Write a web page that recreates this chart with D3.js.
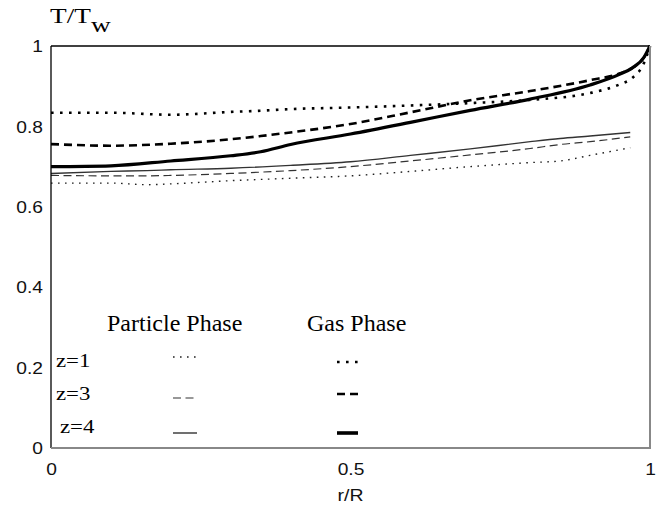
<!DOCTYPE html>
<html>
<head>
<meta charset="utf-8">
<script src="https://cdn.jsdelivr.net/npm/d3@7/dist/d3.min.js"></script>
<style>
  html, body { margin: 0; padding: 0; background: #fff; }
  svg { display: block; }
</style>
</head>
<body>
<div id="chart"></div>
<script>
// Radial temperature profiles T/Tw against r/R for the gas and particle phases.
const rGas  = [0, 0.1, 0.2, 0.3, 0.35, 0.4, 0.5, 0.6, 0.7, 0.8, 0.9, 0.95, 0.97, 0.99, 1.0];
const rPart = [0, 0.1, 0.16, 0.2, 0.3, 0.4, 0.5, 0.6, 0.7, 0.8, 0.85, 0.9, 0.967];

const gasZ1 = [0.834, 0.834, 0.829, 0.836, 0.839, 0.843, 0.847, 0.852, 0.858, 0.866, 0.883, 0.905, 0.92, 0.958, 1.0];
const gasZ3 = [0.756, 0.752, 0.757, 0.768, 0.776, 0.785, 0.806, 0.835, 0.865, 0.888, 0.915, 0.932, 0.945, 0.972, 1.0];
const gasZ4 = [0.700, 0.702, 0.714, 0.727, 0.737, 0.755, 0.781, 0.810, 0.840, 0.868, 0.903, 0.930, 0.945, 0.972, 1.0];

const partZ1 = [0.659, 0.659, 0.655, 0.657, 0.665, 0.671, 0.677, 0.688, 0.700, 0.710, 0.714, 0.728, 0.747];
const partZ3 = [0.678, 0.677, 0.677, 0.678, 0.683, 0.690, 0.700, 0.714, 0.729, 0.745, 0.755, 0.762, 0.774];
const partZ4 = [0.683, 0.688, 0.690, 0.692, 0.696, 0.703, 0.712, 0.728, 0.744, 0.762, 0.770, 0.776, 0.785];

const xTickValues = [0, 0.5, 1];
const xTickLabels = ["0", "0.5", "1"];
const yTickValues = [0, 0.2, 0.4, 0.6, 0.8, 1];
const yTickLabels = ["0", "0.2", "0.4", "0.6", "0.8", "1"];

const legendRows = ["z=1", "z=3", "z=4"];
const legendHeads = ["Particle Phase", "Gas Phase"];

const W = 660, H = 515;
const svg = d3.select("#chart").append("svg").attr("width", W).attr("height", H);
svg.append("rect").attr("width", W).attr("height", H).attr("fill", "#fff");

const x = d3.scaleLinear().domain([0, 1]).range([51, 650]);
const y = d3.scaleLinear().domain([0, 1]).range([448, 46]);

// Line styles per phase and axial position
const gasStyle = {
  "z=1": { width: 2.6, dash: "2.6,6.4", color: "#000" },
  "z=3": { width: 2.6, dash: "8,5", color: "#000" },
  "z=4": { width: 3.2, dash: null, color: "#000" }
};
const partStyle = {
  "z=1": { width: 1.4, dash: "1.6,5.4", color: "#222" },
  "z=3": { width: 1.2, dash: "8,4.5", color: "#333" },
  "z=4": { width: 1.4, dash: null, color: "#333" }
};

const series = [
  { phase: "part", z: "z=1", r: rPart, v: partZ1 },
  { phase: "part", z: "z=3", r: rPart, v: partZ3 },
  { phase: "part", z: "z=4", r: rPart, v: partZ4 },
  { phase: "gas", z: "z=1", r: rGas, v: gasZ1 },
  { phase: "gas", z: "z=3", r: rGas, v: gasZ3 },
  { phase: "gas", z: "z=4", r: rGas, v: gasZ4 }
];

const line = d3.line()
  .x(d => x(d[0]))
  .y(d => y(d[1]))
  .curve(d3.curveMonotoneX);

const styleOf = s => (s.phase === "gas" ? gasStyle : partStyle)[s.z];

svg.append("g").selectAll("path")
  .data(series)
  .join("path")
  .attr("d", s => line(s.r.map((r, i) => [r, s.v[i]])))
  .attr("fill", "none")
  .attr("stroke", s => styleOf(s).color)
  .attr("stroke-width", s => styleOf(s).width)
  .attr("stroke-dasharray", s => styleOf(s).dash)
  .attr("stroke-linecap", "butt");

// Plot frame: black top/left, grey bottom/right
const [x0, x1] = x.range();
const [yb, yt] = y.range();
svg.append("line").attr("x1", x0).attr("x2", x1).attr("y1", yt).attr("y2", yt)
  .attr("stroke", "#000").attr("stroke-width", 1.3);
svg.append("line").attr("x1", x0).attr("x2", x0).attr("y1", yt).attr("y2", yb)
  .attr("stroke", "#000").attr("stroke-width", 1.3);
svg.append("line").attr("x1", x0).attr("x2", x1 + 1).attr("y1", yb).attr("y2", yb)
  .attr("stroke", "#888").attr("stroke-width", 2);
svg.append("line").attr("x1", x1).attr("x2", x1).attr("y1", yt).attr("y2", yb)
  .attr("stroke", "#888").attr("stroke-width", 2);

// Axes (labels only, no tick marks)
const sansFont = "'Liberation Sans', Arial, Helvetica, sans-serif";
const serifFont = "'Liberation Serif', 'Times New Roman', Times, serif";

const yAxis = svg.append("g")
  .attr("transform", `translate(${x0},0)`)
  .call(d3.axisLeft(y).tickValues(yTickValues).tickSize(0)
    .tickFormat((d, i) => yTickLabels[i]));
yAxis.select(".domain").remove();
yAxis.selectAll("text")
  .attr("x", 0).attr("dy", "0.36em")
  .attr("transform", "translate(-8,0) scale(1.2,1)")
  .attr("font-family", sansFont).attr("font-size", 16).attr("fill", "#111");

const xAxis = svg.append("g")
  .attr("transform", `translate(0,${yb})`)
  .call(d3.axisBottom(x).tickValues(xTickValues).tickSize(0)
    .tickFormat((d, i) => xTickLabels[i]));
xAxis.select(".domain").remove();
xAxis.selectAll("text")
  .attr("y", 0).attr("dy", 0)
  .attr("transform", "translate(0,27) scale(1.2,1)")
  .attr("font-family", sansFont).attr("font-size", 16).attr("fill", "#111");

// Axis titles
svg.append("g").attr("transform", `translate(${x(0.5)},501) scale(1.22,1)`)
  .append("text")
  .attr("text-anchor", "middle")
  .attr("font-family", sansFont).attr("font-size", 16).attr("fill", "#111")
  .text("r/R");

const yTitle = svg.append("g").attr("transform", "translate(50,23) scale(1.3,1)")
  .append("text")
  .attr("font-family", serifFont).attr("font-size", 21);
yTitle.append("tspan").text("T/T");
yTitle.append("tspan").attr("dy", 9).text("w");

// Legend
const legendHeadX = [107, 307];
svg.append("g").selectAll("text")
  .data(legendHeads)
  .join("text")
  .attr("x", (d, i) => legendHeadX[i])
  .attr("y", 331)
  .attr("font-family", serifFont).attr("font-size", 24)
  .text(d => d);

const rowY = { "z=1": 367, "z=3": 400, "z=4": 433 };
const rowX = { "z=1": 56, "z=3": 56, "z=4": 60 };
const sampleY = {
  part: { "z=1": 357, "z=3": 398, "z=4": 433 },
  gas:  { "z=1": 362, "z=3": 394, "z=4": 433 }
};
const sampleX = { part: [173, 197], gas: [337, 358] };

legendRows.forEach(z => {
  svg.append("g").attr("transform", `translate(${rowX[z]},${rowY[z]}) scale(1.2,1)`)
    .append("text")
    .attr("font-family", serifFont).attr("font-size", 19)
    .text(z);
  ["part", "gas"].forEach(ph => {
    const st = (ph === "gas" ? gasStyle : partStyle)[z];
    svg.append("line")
      .attr("x1", sampleX[ph][0]).attr("x2", sampleX[ph][1])
      .attr("y1", sampleY[ph][z]).attr("y2", sampleY[ph][z])
      .attr("stroke", st.color)
      .attr("stroke-width", ph === "gas" && z === "z=4" ? 3.6 : st.width)
      .attr("stroke-dasharray", st.dash);
  });
});
</script>
</body>
</html>
